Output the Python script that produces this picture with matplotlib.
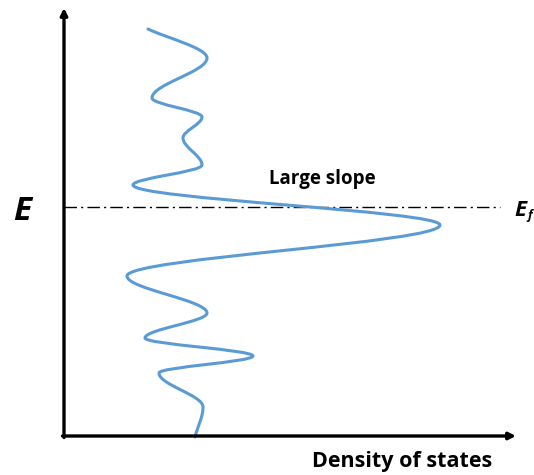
import numpy as np
import matplotlib.pyplot as plt
from matplotlib.path import Path
from matplotlib.patches import PathPatch

# turning points of the DOS curve (x = density, y = energy, in picture units, y down)
dos_x = [148, 207, 152, 202, 183, 202, 133, 440, 127, 207, 145, 253, 159, 203, 195]
dos_y = [29, 58, 98, 117, 138, 165, 185, 225, 276, 313, 338, 356, 373, 407, 437]

fermi_y = 207
axis_x0, axis_y0 = 64, 436
axis_top, axis_right = 8, 516

W, H = 534, 475
fig = plt.figure(figsize=(W / 100, H / 100), dpi=100)
ax = fig.add_axes([0, 0, 1, 1])
ax.set_xlim(0, W)
ax.set_ylim(H, 0)
ax.axis('off')

# smooth curve: cubic beziers with vertical tangents at the turning points
k = 0.35
verts = [(dos_x[0], dos_y[0])]
codes = [Path.MOVETO]
n = len(dos_x)
for i in range(n - 1):
    x0, y0, x1, y1 = dos_x[i], dos_y[i], dos_x[i + 1], dos_y[i + 1]
    dy = y1 - y0
    if i == 0:
        c1 = (x0 + (x1 - x0) * 0.3, y0 + dy * 0.3)
    else:
        c1 = (x0, y0 + k * dy)
    if i == n - 2:
        c2 = (x1 + 3, y1 - dy * 0.4)
    else:
        c2 = (x1, y1 - k * dy)
    verts += [c1, c2, (x1, y1)]
    codes += [Path.CURVE4] * 3
ax.add_patch(PathPatch(Path(verts, codes), fill=False, edgecolor='#5B9BD5',
                       lw=2.2, capstyle='round', joinstyle='round', zorder=3))

# fermi level
ax.plot([axis_x0, 500], [fermi_y, fermi_y], color='black', lw=1.0,
        linestyle=(0, (9, 3, 1.5, 3)), zorder=2)

# axes arrows
arrow = dict(arrowstyle='-|>', lw=2.4, color='black', mutation_scale=10, shrinkA=0, shrinkB=0)
ax.annotate('', xy=(axis_x0, axis_top), xytext=(axis_x0, axis_y0 + 1.5), arrowprops=arrow)
ax.annotate('', xy=(axis_right, axis_y0), xytext=(axis_x0 - 1.5, axis_y0), arrowprops=arrow)

font = ['Open Sans', 'DejaVu Sans']
ax.text(22, 211, 'E', fontsize=24, fontweight='bold', fontstyle='italic',
        ha='center', va='center', family=font)
ax.text(514, 210, 'E', fontsize=16, fontweight='bold', fontstyle='italic',
        ha='left', va='center', family=font)
ax.text(527, 216, 'f', fontsize=9, fontweight='bold', fontstyle='italic',
        ha='left', va='center', family=font)
ax.text(322, 179, 'Large slope', fontsize=13.5, fontweight='bold',
        ha='center', va='center', family=font)
ax.text(402, 461, 'Density of states', fontsize=15.5, fontweight='bold',
        ha='center', va='center', family=font)

fig.savefig('out.png', dpi=100)
